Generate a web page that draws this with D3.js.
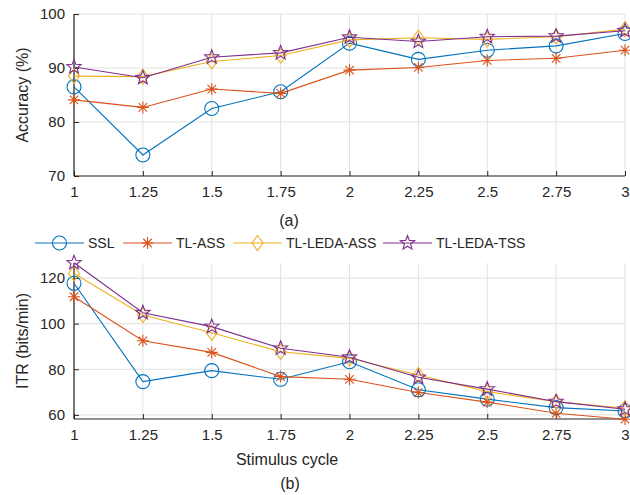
<!DOCTYPE html>
<html>
<head>
<meta charset="utf-8">
<script src="https://cdn.jsdelivr.net/npm/d3@7"></script>
<style>
  body { margin: 0; background: #fff; }
  svg { font-family: "Liberation Sans", Arial, sans-serif; }
</style>
</head>
<body>
<div id="chart"></div>
<script>
// stimulus cycles (x axis, shared by both panels)
const cycles = [1, 1.25, 1.5, 1.75, 2, 2.25, 2.5, 2.75, 3];
const xTickLabels = ["1", "1.25", "1.5", "1.75", "2", "2.25", "2.5", "2.75", "3"];

const methods = ["SSL", "TL-ASS", "TL-LEDA-ASS", "TL-LEDA-TSS"];
const colors = ["#0072BD", "#D95319", "#EDB120", "#7E2F8E"];
const markers = ["circle", "asterisk", "diamond", "star"];

// panel (a): accuracy (%)
const accSSL   = [86.5, 73.9, 82.5, 85.6, 94.6, 91.6, 93.3, 94.1, 96.4];
const accTLASS = [84.1, 82.7, 86.1, 85.3, 89.6, 90.1, 91.4, 91.8, 93.3];
const accLASS  = [88.5, 88.4, 91.2, 92.3, 95.2, 95.6, 95.3, 95.8, 97.2];
const accLTSS  = [90.2, 88.2, 92.0, 92.8, 95.7, 94.9, 95.8, 95.9, 96.9];
const accTicks = [70, 80, 90, 100];

// panel (b): ITR (bits/min)
const itrSSL   = [117.7, 74.6, 79.4, 75.6, 83.3, 71.0, 66.9, 63.2, 61.7];
const itrTLASS = [111.8, 92.5, 87.4, 76.8, 75.6, 69.8, 65.6, 60.7, 58.1];
const itrLASS  = [122.0, 103.8, 96.0, 87.7, 84.8, 77.5, 70.2, 65.8, 62.9];
const itrLTSS  = [126.7, 104.8, 98.7, 89.2, 85.3, 76.5, 71.3, 65.8, 62.5];
const itrTicks = [60, 80, 100, 120];

const width = 630, height = 495;
const svg = d3.select("#chart").append("svg")
    .attr("width", width).attr("height", height);

const x = d3.scaleLinear().domain([1, 3]).range([74, 625]);

// marker shapes drawn as path strings around (0,0)
function markerPath(type) {
    if (type === "circle") return d3.symbol(d3.symbolCircle, Math.PI * 49)();
    if (type === "diamond") return "M0,-7.5L5.5,0L0,7.5L-5.5,0Z";
    if (type === "star") {
        let pts = [];
        for (let i = 0; i < 10; i++) {
            const r = i % 2 === 0 ? 7.5 : 3.2;
            const a = -Math.PI / 2 + i * Math.PI / 5;
            pts.push([r * Math.cos(a), r * Math.sin(a)]);
        }
        return "M" + pts.map(p => p.join(",")).join("L") + "Z";
    }
    // asterisk: crossing strokes
    let s = "";
    for (let i = 0; i < 4; i++) {
        const a = i * Math.PI / 4;
        const dx = 6 * Math.cos(a), dy = 6 * Math.sin(a);
        s += `M${-dx},${-dy}L${dx},${dy}`;
    }
    return s;
}

function drawPanel(top, bottom, domain, ticks, series, ylabel) {
    const y = d3.scaleLinear().domain(domain).range([bottom, top]);
    const g = svg.append("g");

    // grid lines
    g.selectAll(".gx").data(cycles).join("line")
        .attr("x1", d => x(d)).attr("x2", d => x(d))
        .attr("y1", top).attr("y2", bottom)
        .attr("stroke", "#e1e1e1").attr("stroke-width", 1);
    g.selectAll(".gy").data(ticks).join("line")
        .attr("x1", x(1)).attr("x2", x(3))
        .attr("y1", d => y(d)).attr("y2", d => y(d))
        .attr("stroke", "#e1e1e1").attr("stroke-width", 1);

    // axes (ticks pointing inward, like MATLAB)
    const xAxis = d3.axisBottom(x).tickValues(cycles)
        .tickFormat((d, i) => xTickLabels[i]).tickSizeInner(-5).tickSizeOuter(0).tickPadding(10);
    const yAxis = d3.axisLeft(y).tickValues(ticks).tickSizeInner(-5).tickSizeOuter(0).tickPadding(9);

    const gx = g.append("g").attr("transform", `translate(0,${bottom})`).call(xAxis);
    const gy = g.append("g").attr("transform", `translate(${x(1)},0)`).call(yAxis);
    [gx, gy].forEach(a => {
        a.select(".domain").attr("stroke", "#262626").attr("stroke-width", 1.2)
            .attr("d", a === gx ? `M${x(1)},0H${x(3)}` : `M0,${top}V${bottom}`);
        a.selectAll(".tick line").attr("stroke", "#262626");
        a.selectAll("text").attr("fill", "#262626").attr("font-size", 15)
            .attr("font-family", "Liberation Sans, Arial, sans-serif");
    });

    g.append("text")
        .attr("transform", `translate(28,${(top + bottom) / 2}) rotate(-90)`)
        .attr("text-anchor", "middle").attr("font-size", 16).attr("fill", "#262626")
        .text(ylabel);

    const line = d3.line().x((d, i) => x(cycles[i])).y(d => y(d));
    series.forEach((vals, k) => {
        g.append("path").datum(vals)
            .attr("d", line).attr("fill", "none")
            .attr("stroke", colors[k]).attr("stroke-width", 1.1);
        g.selectAll(null).data(vals).join("path")
            .attr("transform", (d, i) => `translate(${x(cycles[i])},${y(d)})`)
            .attr("d", markerPath(markers[k]))
            .attr("fill", "none").attr("stroke", colors[k]).attr("stroke-width", 1.1);
    });
}

drawPanel(14, 176, [70, 100], accTicks, [accSSL, accTLASS, accLASS, accLTSS], "Accuracy (%)");
drawPanel(263, 419, [58.2, 126.6], itrTicks, [itrSSL, itrTLASS, itrLASS, itrLTSS], "ITR (bits/min)");

// panel captions and x label
svg.append("text").attr("x", 289).attr("y", 226).attr("text-anchor", "middle")
    .attr("font-size", 16).attr("fill", "#262626").text("(a)");
svg.append("text").attr("x", 287).attr("y", 465).attr("text-anchor", "middle")
    .attr("font-size", 16).attr("fill", "#262626").text("Stimulus cycle");
svg.append("text").attr("x", 290).attr("y", 489).attr("text-anchor", "middle")
    .attr("font-size", 16).attr("fill", "#262626").text("(b)");

// legend
const legendX = [35, 123, 233, 383];
const leg = svg.append("g").attr("transform", "translate(0,243)");
methods.forEach((m, k) => {
    const lg = leg.append("g").attr("transform", `translate(${legendX[k]},0)`);
    lg.append("line").attr("x1", 0).attr("x2", 49).attr("y1", 0).attr("y2", 0)
        .attr("stroke", colors[k]).attr("stroke-width", 1.1);
    lg.append("path").attr("transform", "translate(24.5,0)")
        .attr("d", markerPath(markers[k]))
        .attr("fill", "none").attr("stroke", colors[k]).attr("stroke-width", 1.1);
    lg.append("text").attr("x", 53).attr("y", 5).attr("font-size", 14)
        .attr("fill", "#262626").text(m);
});
</script>
</body>
</html>
